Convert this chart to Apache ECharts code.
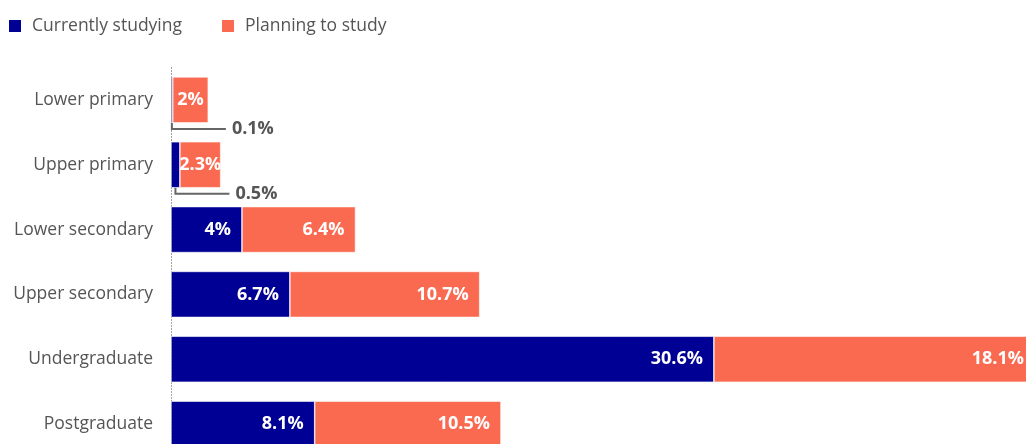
<!DOCTYPE html>
<html>
<head>
<meta charset="utf-8">
<script src="https://cdn.jsdelivr.net/npm/echarts@6/dist/echarts.min.js"></script>
<style>
  html, body { margin: 0; padding: 0; background: #fff; }
  #chart { width: 1026px; height: 444px; }
</style>
</head>
<body>
<div id="chart"></div>
<script>
// Education levels, top to bottom
const categories = ['Lower primary', 'Upper primary', 'Lower secondary', 'Upper secondary', 'Undergraduate', 'Postgraduate'];
// Share of respondents (%)
const currentlyStudying = [0.1, 0.5, 4, 6.7, 30.6, 8.1];
const planningToStudy = [2, 2.3, 6.4, 10.7, 18.1, 10.5];

const BLUE = '#000094';
const ORANGE = '#f96a51';
const TEXT = '#555555';
const FONT = '"Open Sans", sans-serif';
const BAR_W = 46;

// Segments too thin for an inside label get an outside callout instead
const SMALL = 1;
const SNUG = 3;

function segLabel(v) {
  if (v < SMALL) return { show: false };
  if (v < SNUG) return { show: true, position: 'inside' };
  return { show: true, position: 'insideRight', distance: 11 };
}

const calloutData = [];
currentlyStudying.forEach((v, i) => { if (v < SMALL) calloutData.push([v, i]); });

const chart = echarts.init(document.getElementById('chart'));
chart.setOption({
  animation: false,
  textStyle: { fontFamily: FONT },
  legend: {
    left: 2, top: 12,
    icon: 'rect', itemWidth: 14, itemHeight: 14, itemGap: 38,
    textStyle: { fontSize: 17.5, color: TEXT, fontFamily: FONT, padding: [0, 0, 0, 5] },
    data: ['Currently studying', 'Planning to study']
  },
  // the plot runs past the right and bottom edges of the canvas
  grid: { left: 171, top: 67.5, width: 864, height: 389, outerBoundsMode: 'none', containLabel: false },
  xAxis: {
    type: 'value', min: 0, max: 48.7, show: false
  },
  yAxis: {
    type: 'category', inverse: true, data: categories,
    axisLine: { show: true, lineStyle: { color: '#999', type: [1, 2], width: 1 } },
    axisTick: { show: false },
    axisLabel: { color: TEXT, fontSize: 17.5, margin: 18, fontFamily: FONT }
  },
  series: [
    {
      name: 'Currently studying', type: 'bar', stack: 'total', barWidth: BAR_W,
      itemStyle: { color: BLUE, borderColor: '#fff', borderWidth: 0.6 },
      label: { color: '#fff', fontWeight: 'bold', fontSize: 18, formatter: '{c}%', fontFamily: FONT },
      data: currentlyStudying.map(v => ({ value: v, label: segLabel(v) }))
    },
    {
      name: 'Planning to study', type: 'bar', stack: 'total', barWidth: BAR_W,
      itemStyle: { color: ORANGE, borderColor: '#fff', borderWidth: 0.6 },
      label: { color: '#fff', fontWeight: 'bold', fontSize: 18, formatter: '{c}%', fontFamily: FONT },
      data: planningToStudy.map(v => ({ value: v, label: segLabel(v) }))
    },
    {
      // Elbow callouts for the thin blue segments
      type: 'custom', silent: true, z: 5,
      data: calloutData,
      renderItem: function (params, api) {
        const v = api.value(0), idx = api.value(1);
        const p0 = api.coord([0, idx]);
        const p1 = api.coord([v, idx]);
        const x = Math.max((p0[0] + p1[0]) / 2, p0[0] + 0.5);
        const yTop = p0[1] + BAR_W / 2;
        const yLine = yTop + 6;
        const xEnd = x + 54;
        return {
          type: 'group',
          children: [
            {
              type: 'polyline',
              shape: { points: [[x, yTop], [x, yLine], [xEnd, yLine]] },
              style: { stroke: '#666', lineWidth: 2, fill: null }
            },
            {
              type: 'text',
              style: {
                text: v + '%', x: xEnd + 6, y: yLine,
                textVerticalAlign: 'middle', verticalAlign: 'middle',
                fill: TEXT, font: 'bold 18px ' + FONT
              }
            }
          ]
        };
      }
    }
  ]
});
</script>
</body>
</html>
